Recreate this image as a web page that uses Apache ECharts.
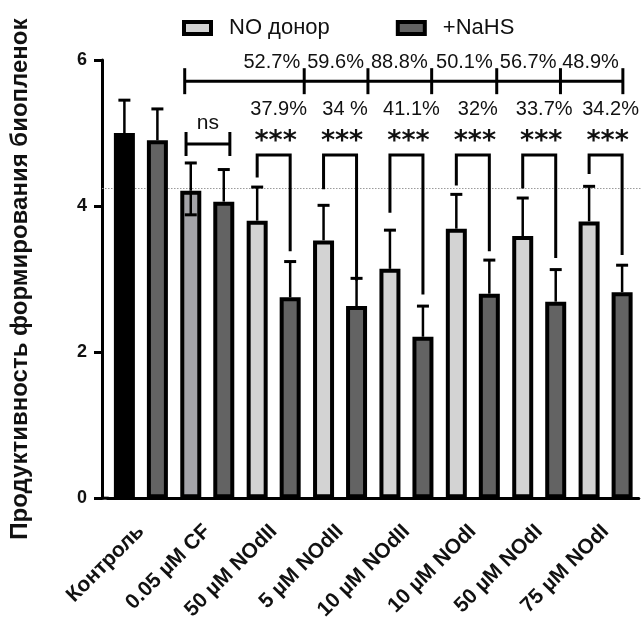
<!DOCTYPE html>
<html>
<head>
<meta charset="utf-8">
<style>
  html, body { margin: 0; padding: 0; background: #fff; }
  #chart { width: 643px; height: 623px; }
</style>
<script src="https://cdn.jsdelivr.net/npm/echarts@6/dist/echarts.min.js"></script>
</head>
<body>
<div id="chart"></div>
<script>
// Groups along the x axis
const categories = ['Контроль', '0.05 µM CF', '50 µM NOdII', '5 µM NOdII', '10 µM NOdII', '10 µM NOdI', '50 µM NOdI', '75 µM NOdI'];

// Series 1: NO donor (first bar is the control, second the CF reference)
const noDonor = [5.00, 4.21, 3.80, 3.53, 3.14, 3.69, 3.59, 3.79];
const noDonorUpper = [5.45, 4.59, 4.26, 4.01, 3.67, 4.16, 4.11, 4.27];
const noDonorLower = [null, 3.88, null, null, null, null, null, null];

// Series 2: +NaHS
const nahs = [4.90, 4.06, 2.75, 2.63, 2.21, 2.80, 2.69, 2.82];
const nahsUpper = [5.33, 4.50, 3.24, 3.01, 2.63, 3.26, 3.13, 3.19];
const nahsLower = [null, null, null, null, null, null, null, null];

// Y axis ticks
const yTicks = [0, 2, 4, 6];

// Reference level (CF group)
const refLevel = 4.24;

// Percent labels: top row (vs. CF), second row (NO donor vs +NaHS)
const topPercents = ['52.7%', '59.6%', '88.8%', '50.1%', '56.7%', '48.9%'];
const pairPercents = ['37.9%', '34 %', '41.1%', '32%', '33.7%', '34.2%'];
const pairStars = ['***', '***', '***', '***', '***', '***'];
const nsLabel = 'ns';

// Bracket leg ends (value units) for the significance brackets of groups 3..8
const legLeft = [4.39, 4.23, 3.91, 4.28, 4.24, 4.44];
const legRight = [3.38, 2.98, 2.79, 3.38, 3.29, 3.33];

// Layout constants
const FONT = 'Arial, "Liberation Sans", Helvetica, sans-serif';
const BAR_W = 21;
const BAR_GAP = 12;
const HALF = (BAR_W + BAR_GAP) / 2;
const INK = '#111';
const topTickUnits = [0.66, 2.46, 3.42, 4.38, 5.36, 6.32, 7.26];

const colors = { control: '#000000', cf: '#a3a3a8', light: '#d3d3d3', dark: '#636363' };

const chart = echarts.init(document.getElementById('chart'), null, { renderer: 'canvas' });

function xAt(api, u) {
  const c0 = api.coord([0, 0])[0];
  const band = api.size([1, 0])[0];
  return c0 + u * band;
}

function errorSeries(name, upper, lower, dir) {
  return {
    name: name + ' SD',
    type: 'custom',
    z: 4,
    silent: true,
    data: upper.map((u, i) => [i, u, lower[i] == null ? NaN : lower[i], dir === -1 ? noDonor[i] : nahs[i]]),
    renderItem: function (params, api) {
      const i = api.value(0);
      const mean = api.value(3);
      const top = api.coord([i, api.value(1)]);
      const mid = api.coord([i, mean]);
      const x = top[0] + dir * HALF;
      const cap = 6;
      const children = [
        { type: 'line', shape: { x1: x, y1: mid[1], x2: x, y2: top[1] }, style: { stroke: '#000', lineWidth: 2.5 } },
        { type: 'line', shape: { x1: x - cap, y1: top[1], x2: x + cap, y2: top[1] }, style: { stroke: '#000', lineWidth: 3 } }
      ];
      const lo = api.value(2);
      if (!isNaN(lo)) {
        const bot = api.coord([i, lo]);
        children.push({ type: 'line', shape: { x1: x, y1: mid[1], x2: x, y2: bot[1] }, style: { stroke: '#000', lineWidth: 2.5 } });
        children.push({ type: 'line', shape: { x1: x - cap, y1: bot[1], x2: x + cap, y2: bot[1] }, style: { stroke: '#000', lineWidth: 3 } });
      }
      return { type: 'group', children: children };
    }
  };
}

const option = {
  backgroundColor: '#ffffff',
  animation: false,
  textStyle: { fontFamily: FONT },
  grid: { left: 105.7, top: 60, width: 533.1, height: 439.5, containLabel: false },
  legend: {
    data: ['NO донор', '+NaHS'],
    left: 177,
    top: 12,
    icon: 'rect',
    itemWidth: 27,
    itemHeight: 12,
    itemGap: 66,
    selectedMode: false,
    itemStyle: { borderColor: '#000', borderWidth: 4 },
    textStyle: { fontSize: 22, fontFamily: FONT, color: INK, padding: [0, 0, 0, 13] }
  },
  xAxis: {
    type: 'category',
    data: categories,
    axisLine: { lineStyle: { color: '#000', width: 3 } },
    axisTick: { alignWithLabel: true, length: 12, lineStyle: { color: '#000', width: 3 } },
    axisLabel: { rotate: 45, margin: 30, fontSize: 21, fontWeight: 'bold', color: INK, fontFamily: FONT, interval: 0 },
    splitLine: { show: false }
  },
  yAxis: {
    type: 'value',
    min: yTicks[0],
    max: yTicks[yTicks.length - 1],
    interval: yTicks[1] - yTicks[0],
    offset: 5.7,
    name: 'Продуктивность формирования биопленок',
    nameLocation: 'middle',
    nameRotate: 90,
    nameGap: 70,
    nameTextStyle: { fontSize: 24, fontWeight: 'bold', color: INK, fontFamily: FONT },
    axisLine: { show: true, lineStyle: { color: '#000', width: 3 } },
    axisTick: { show: true, length: 8, lineStyle: { color: '#000', width: 3 } },
    axisLabel: { margin: 15, fontSize: 18, fontWeight: 'bold', color: INK, fontFamily: FONT },
    splitLine: { show: false }
  },
  series: [
    {
      name: 'reference',
      type: 'custom',
      z: 1,
      silent: true,
      data: [[0, refLevel]],
      renderItem: function (params, api) {
        const cs = params.coordSys;
        const y = api.coord([0, api.value(1)])[1];
        const y0 = api.coord([0, 0])[1];
        return {
          type: 'group',
          children: [
            { type: 'line', shape: { x1: cs.x - 5.7, y1: y, x2: cs.x + cs.width + 2, y2: y }, style: { stroke: '#9a9a9a', lineWidth: 1, lineDash: [1.5, 1.5] } },
            { type: 'line', shape: { x1: cs.x - 5.7, y1: y0, x2: cs.x + 1, y2: y0 }, style: { stroke: '#000', lineWidth: 3 } }
          ]
        };
      }
    },
    {
      name: 'NO донор',
      type: 'bar',
      z: 2,
      barWidth: BAR_W,
      barGap: (BAR_GAP / BAR_W * 100).toFixed(2) + '%',
      itemStyle: { color: colors.light, borderColor: '#000', borderWidth: 4 },
      data: noDonor.map((v, i) => ({
        value: v,
        itemStyle: { color: i === 0 ? colors.control : (i === 1 ? colors.cf : colors.light), borderColor: '#000', borderWidth: 4 }
      }))
    },
    {
      name: '+NaHS',
      type: 'bar',
      z: 2,
      barWidth: BAR_W,
      itemStyle: { color: colors.dark, borderColor: '#000', borderWidth: 4 },
      data: nahs
    },
    errorSeries('NO донор', noDonorUpper, noDonorLower, -1),
    errorSeries('+NaHS', nahsUpper, nahsLower, 1),
    {
      name: 'annotations',
      type: 'custom',
      z: 5,
      silent: true,
      data: [[0, 0]],
      renderItem: function (params, api) {
        const children = [];
        const stroke = { stroke: '#000', lineWidth: 3, fill: null };

        // Top comparison bracket with tick marks
        const yTop = api.coord([0, 5.71])[1];
        const tx = topTickUnits.map(u => xAt(api, u));
        children.push({ type: 'line', shape: { x1: tx[0], y1: yTop, x2: tx[tx.length - 1], y2: yTop }, style: stroke });
        tx.forEach(x => children.push({ type: 'line', shape: { x1: x, y1: yTop - 13, x2: x, y2: yTop + 13 }, style: stroke }));
        const yTopText = api.coord([0, 5.97])[1];
        topPercents.forEach((t, k) => children.push({
          type: 'text',
          style: { text: t, x: tx[k + 1] - 4, y: yTopText, align: 'right', verticalAlign: 'middle', fontSize: 20, fontFamily: FONT, fill: INK }
        }));

        // ns bracket for the CF group
        const yNs = api.coord([0, 4.85])[1];
        const nsL = xAt(api, 0.68), nsR = xAt(api, 1.34);
        children.push({ type: 'line', shape: { x1: nsL, y1: yNs, x2: nsR, y2: yNs }, style: stroke });
        children.push({ type: 'line', shape: { x1: nsL, y1: yNs - 12, x2: nsL, y2: yNs + 12 }, style: stroke });
        children.push({ type: 'line', shape: { x1: nsR, y1: yNs - 12, x2: nsR, y2: yNs + 12 }, style: stroke });
        children.push({
          type: 'text',
          style: { text: nsLabel, x: (nsL + nsR) / 2, y: api.coord([0, 5.14])[1], align: 'center', verticalAlign: 'middle', fontSize: 21, fontFamily: FONT, fill: INK }
        });

        // Significance brackets for groups 3..8
        const yBr = api.coord([0, 4.70])[1];
        const yStar = api.coord([0, 4.93])[1];
        const yPct = api.coord([0, 5.32])[1];
        for (let k = 0; k < pairPercents.length; k++) {
          const g = k + 2;
          const cx = api.coord([g, 0])[0];
          const xl = cx - HALF, xr = cx + HALF;
          const yl = api.coord([g, legLeft[k]])[1];
          const yr = api.coord([g, legRight[k]])[1];
          children.push({ type: 'polyline', shape: { points: [[xl, yl], [xl, yBr], [xr, yBr], [xr, yr]] }, style: stroke });
          children.push({
            type: 'text',
            style: { text: pairStars[k], x: cx + 2, y: yStar + 4, align: 'center', verticalAlign: 'middle', fontSize: 27, fontWeight: 'bold', fontFamily: '"DejaVu Sans", sans-serif', fill: INK }
          });
          children.push({
            type: 'text',
            style: { text: pairPercents[k], x: cx + 5, y: yPct, align: 'center', verticalAlign: 'middle', fontSize: 20, fontFamily: FONT, fill: INK }
          });
        }
        return { type: 'group', children: children };
      }
    }
  ]
};

chart.setOption(option);
</script>
</body>
</html>
